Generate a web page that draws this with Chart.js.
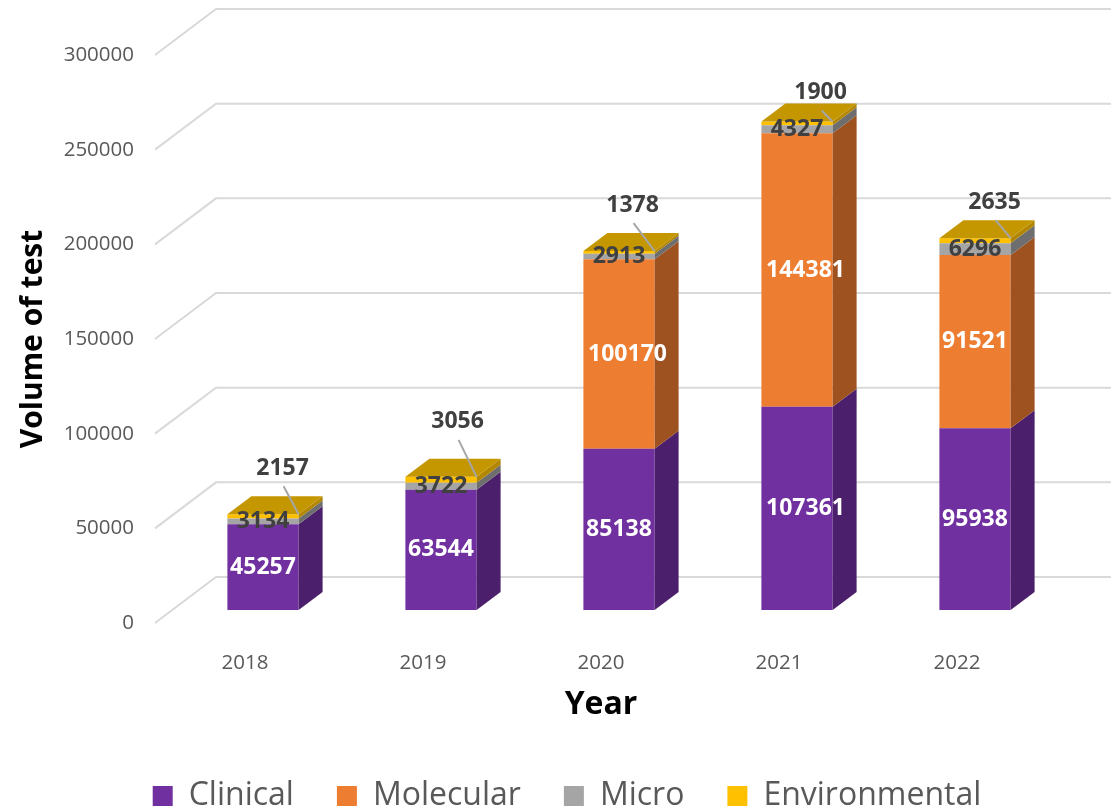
<!DOCTYPE html>
<html>
<head>
<meta charset="utf-8">
<script src="https://cdn.jsdelivr.net/npm/chart.js@4.4.1/dist/chart.umd.min.js"></script>
<style>
html,body{margin:0;padding:0;background:#ffffff;}
#wrap{width:1111px;height:811px;position:relative;}
</style>
</head>
<body>
<div id="wrap"><canvas id="c"></canvas></div>
<script>
// ---------- data ----------
const years = ['2018', '2019', '2020', '2021', '2022'];
const clinical = [45257, 63544, 85138, 107361, 95938];
const molecular = [0, 0, 100170, 144381, 91521];
const micro = [3134, 3722, 2913, 4327, 6296];
const environmental = [2157, 3056, 1378, 1900, 2635];
const seriesNames = ['Clinical', 'Molecular', 'Micro', 'Environmental'];
const yMin = 0, yMax = 300000, yStep = 50000;

// ---------- styles ----------
const frontColors = ['#7030A0', '#ED7D31', '#A5A5A5', '#FFC000'];
const sideColors  = ['#4B1F6B', '#9E5220', '#6E6E6E', '#B38600'];
const topColors   = ['#55247A', '#B7601F', '#858585', '#C49600'];
const labelColors = ['#FFFFFF', '#FFFFFF', '#404040', '#404040'];
const SHIFT = {x: 18, y: -13};   // bar plane offset from the front floor edge
const DEPTH = {x: 24, y: -18};   // bar depth
const WALL  = {x: 61, y: -46};   // back wall offset
const envLabelOffset = [[-16, -46], [-19, -55], [-22, -46], [-12, -29], [-16, -36]];
const FONT = '"Open Sans", "DejaVu Sans", sans-serif';

const threeD = {
  id: 'threeD',
  beforeDatasetsDraw(chart) {
    const ctx = chart.ctx, ys = chart.scales.y, a = chart.chartArea;
    ctx.save();
    ctx.strokeStyle = '#D9D9D9';
    ctx.lineWidth = 2;
    ys.ticks.forEach(t => {
      const py = ys.getPixelForValue(t.value);
      ctx.beginPath();
      ctx.moveTo(a.left - 1, py);
      ctx.lineTo(a.left - 1 + WALL.x, py + WALL.y);
      ctx.lineTo(chart.width, py + WALL.y);
      ctx.stroke();
    });
    ctx.restore();
    ctx.save();
    ctx.translate(SHIFT.x, SHIFT.y);
  },
  afterDatasetsDraw(chart) {
    const ctx = chart.ctx;
    const nDs = chart.data.datasets.length;
    for (let i = 0; i < years.length; i++) {
      let topEl = null, topD = -1;
      for (let d = 0; d < nDs; d++) {
        const v = chart.data.datasets[d].data[i];
        const el = chart.getDatasetMeta(d).data[i];
        if (!el || !v) continue;
        const r = el.x + el.width / 2;
        ctx.fillStyle = sideColors[d];
        ctx.beginPath();
        ctx.moveTo(r, el.y);
        ctx.lineTo(r + DEPTH.x, el.y + DEPTH.y);
        ctx.lineTo(r + DEPTH.x, el.base + DEPTH.y);
        ctx.lineTo(r, el.base);
        ctx.closePath();
        ctx.fill();
        topEl = el; topD = d;
      }
      if (topEl) {
        const l = topEl.x - topEl.width / 2, r = topEl.x + topEl.width / 2, y = topEl.y;
        ctx.fillStyle = topColors[topD];
        ctx.beginPath();
        ctx.moveTo(l, y);
        ctx.lineTo(l + DEPTH.x, y + DEPTH.y);
        ctx.lineTo(r + DEPTH.x, y + DEPTH.y);
        ctx.lineTo(r, y);
        ctx.closePath();
        ctx.fill();
      }
    }
    // data labels
    ctx.font = 'bold 23px ' + FONT;
    ctx.textAlign = 'center';
    ctx.textBaseline = 'middle';
    for (let d = 0; d < nDs; d++) {
      const ds = chart.data.datasets[d];
      chart.getDatasetMeta(d).data.forEach((el, i) => {
        const v = ds.data[i];
        if (!v) return;
        const txt = String(v);
        if (d === 3) {
          const cx = el.x + el.width / 2, cy = el.y;
          const lx = cx + envLabelOffset[i][0], ly = cy + envLabelOffset[i][1];
          ctx.strokeStyle = '#A6A6A6';
          ctx.lineWidth = 2;
          ctx.beginPath();
          ctx.moveTo(lx + 1, ly + 18);
          ctx.lineTo(cx, cy);
          ctx.stroke();
          ctx.fillStyle = labelColors[d];
          ctx.fillText(txt, lx, ly);
        } else {
          const tw = ctx.measureText(txt).width;
          const shift = Math.max(0, tw - el.width) * 1.1;
          ctx.fillStyle = labelColors[d];
          ctx.fillText(txt, el.x + shift, (el.y + el.base) / 2);
        }
      });
    }
    ctx.restore();
  }
};

const seriesValues = [clinical, molecular, micro, environmental];
const datasets = seriesNames.map((name, k) => ({
  label: name,
  data: seriesValues[k],
  backgroundColor: frontColors[k],
  borderWidth: 0,
  categoryPercentage: 1.0,
  barPercentage: 0.4,
  clip: false
}));

new Chart(document.getElementById('c'), {
  type: 'bar',
  data: {labels: years, datasets},
  options: {
    responsive: true,
    maintainAspectRatio: false,
    animation: false,
    events: [],
    layout: {padding: {left: 23, right: 0, top: 55, bottom: 0}},
    plugins: {
      tooltip: {enabled: false},
      legend: {
        position: 'bottom',
        maxHeight: 74,
        labels: {
          boxWidth: 20, boxHeight: 20, padding: 43,
          color: '#595959',
          font: {family: FONT, size: 32}
        }
      }
    },
    scales: {
      x: {
        stacked: true,
        grid: {display: false},
        border: {display: false},
        ticks: {color: '#595959', font: {family: FONT, size: 20.5}, padding: 20},
        title: {display: true, text: 'Year', color: '#000000',
                font: {family: FONT, size: 32, weight: 'bold'}, padding: {top: 0, bottom: 13}},
        afterFit: s => { s.height = 114; }
      },
      y: {
        stacked: true,
        min: yMin, max: yMax,
        grid: {display: false},
        border: {display: false},
        ticks: {stepSize: yStep, color: '#595959', font: {family: FONT, size: 20.5}, padding: 14,
                callback: v => String(v)},
        title: {display: true, text: 'Volume of test', color: '#000000',
                font: {family: FONT, size: 30, weight: 'bold'}, padding: {top: -8, bottom: 0}},
        afterFit: s => { s.width = 133; }
      },
      yRight: {
        type: 'linear',
        position: 'right',
        display: true,
        grid: {display: false},
        border: {display: false},
        ticks: {display: false},
        afterFit: s => { s.width = 65; }
      }
    }
  },
  plugins: [threeD]
});
</script>
</body>
</html>
